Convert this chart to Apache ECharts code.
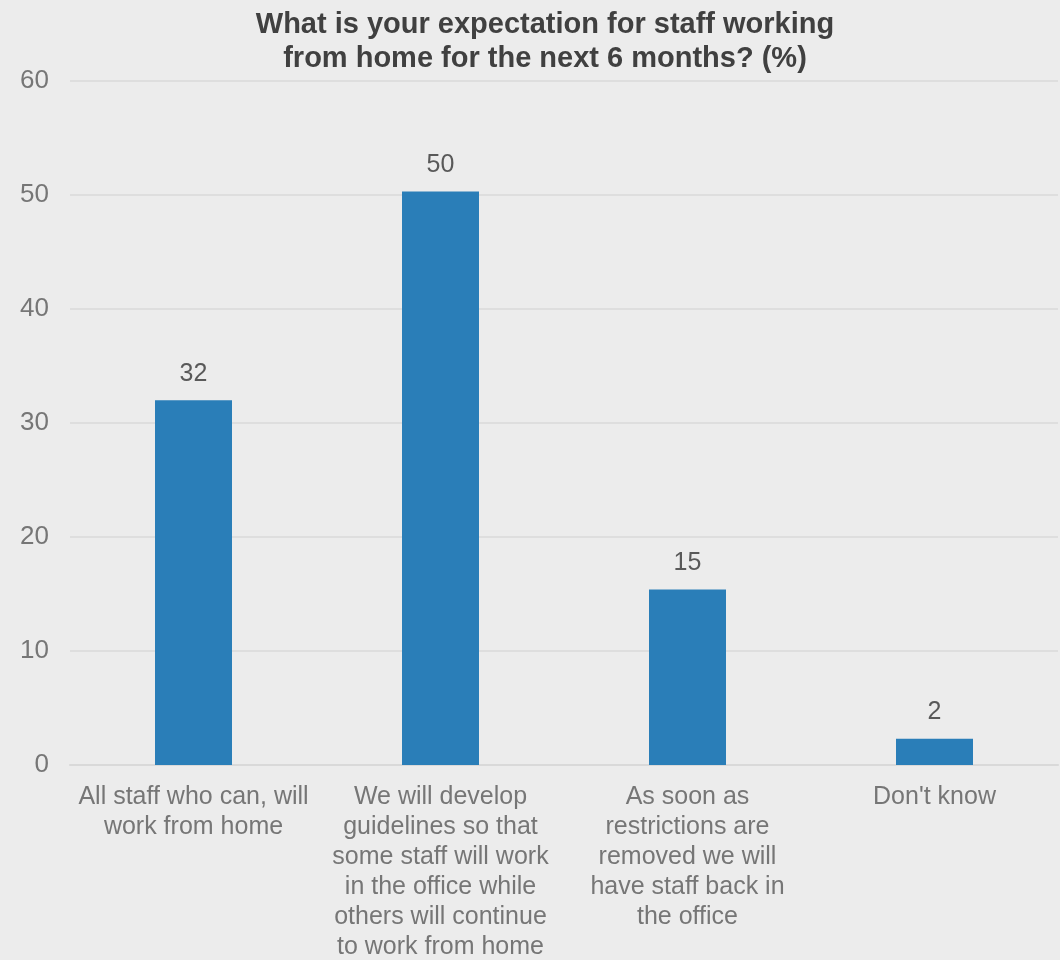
<!DOCTYPE html>
<html>
<head>
<meta charset="utf-8">
<script src="https://cdn.jsdelivr.net/npm/echarts@6/dist/echarts.min.js"></script>
<style>html,body{margin:0;padding:0;background:#ececec;}#c{width:1060px;height:960px;}</style>
</head>
<body>
<div id="c"></div>
<script>
const titleText = "What is your expectation for staff working\nfrom home for the next 6 months? (%)";
const categories = [
  "All staff who can, will\nwork from home",
  "We will develop\nguidelines so that\nsome staff will work\nin the office while\nothers will continue\nto work from home",
  "As soon as\nrestrictions are\nremoved we will\nhave staff back in\nthe office",
  "Don't know"
];
const values = [32.0, 50.3, 15.4, 2.3];
const yTicks = { min: 0, max: 60, interval: 10 };

const chart = echarts.init(document.getElementById('c'), null, { renderer: 'canvas' });
chart.setOption({
  backgroundColor: '#ececec',
  animation: false,
  title: {
    text: titleText,
    left: 540,
    top: 3,
    textAlign: 'center',
    textStyle: { fontFamily: 'Liberation Sans, Arial', fontSize: 29, fontWeight: 'bold', color: '#404040', lineHeight: 34 }
  },
  grid: { left: 70, right: 2, top: 81, bottom: 195, containLabel: false, outerBoundsMode: 'none' },
  xAxis: {
    type: 'category',
    data: categories,
    axisLine: { show: true, lineStyle: { color: '#d9d9d9', width: 2 } },
    axisTick: { show: false },
    axisLabel: {
      interval: 0,
      margin: 17,
      fontFamily: 'Liberation Sans, Arial',
      fontSize: 25,
      lineHeight: 30,
      color: '#767676',
      align: 'center'
    }
  },
  yAxis: {
    type: 'value',
    min: yTicks.min,
    max: yTicks.max,
    interval: yTicks.interval,
    axisLine: { show: false },
    axisTick: { show: false },
    splitLine: { lineStyle: { color: '#dedede', width: 2 } },
    axisLabel: { margin: 21, fontFamily: 'Liberation Sans, Arial', fontSize: 26, color: '#767676' }
  },
  series: [{
    type: 'bar',
    data: values,
    barWidth: 77,
    itemStyle: { color: '#2a7eb8' },
    label: {
      show: true,
      position: 'top',
      distance: 14,
      fontFamily: 'Liberation Sans, Arial',
      fontSize: 25,
      color: '#595959',
      formatter: p => Math.round(p.value)
    }
  }]
});
</script>
</body>
</html>
